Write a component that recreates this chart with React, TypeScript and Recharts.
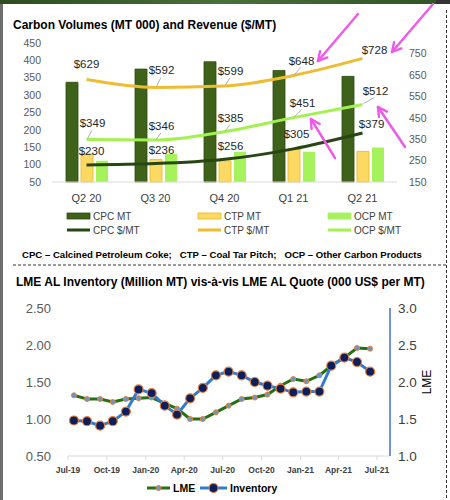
import React from 'react';
import { ComposedChart, LineChart, Bar, Line, XAxis, YAxis, LabelList } from 'recharts';

// ---------- Top chart data ----------
const quarters = ['Q2 20', 'Q3 20', 'Q4 20', 'Q1 21', 'Q2 21'];
const cpcVolume = [337, 375, 396, 371, 354];
const ctpVolume = [131, 115, 111, 146, 138];
const ocpVolume = [111, 131, 137, 137, 149];
const cpcRevenue = [230, 236, 256, 305, 379];
const ctpRevenue = [629, 592, 599, 648, 728];
const ocpRevenue = [349, 346, 385, 451, 512];
const volumeTicks = [50, 100, 150, 200, 250, 300, 350, 400, 450];
const revenueTicks = [150, 250, 350, 450, 550, 650, 750];

// ---------- Bottom chart data ----------
const months = [
  '2019-07', '2019-08', '2019-09', '2019-10', '2019-11', '2019-12',
  '2020-01', '2020-02', '2020-03', '2020-04', '2020-05', '2020-06',
  '2020-07', '2020-08', '2020-09', '2020-10', '2020-11', '2020-12',
  '2021-01', '2021-02', '2021-03', '2021-04', '2021-05', '2021-06',
];
const inventory = [0.98, 0.97, 0.91, 0.97, 1.10, 1.40, 1.35, 1.18, 1.06, 1.28, 1.42, 1.59, 1.64, 1.59, 1.50, 1.45, 1.41, 1.36, 1.37, 1.37, 1.72, 1.83, 1.77, 1.64];
const lmeQuote = [1.82, 1.77, 1.77, 1.73, 1.77, 1.78, 1.79, 1.71, 1.64, 1.50, 1.50, 1.59, 1.68, 1.77, 1.79, 1.83, 1.95, 2.04, 2.01, 2.09, 2.22, 2.33, 2.46, 2.45];
const quarterTickMonths = ['2019-07', '2019-10', '2020-01', '2020-04', '2020-07', '2020-10', '2021-01', '2021-04', '2021-07'];
const quarterTickLabels = ['Jul-19', 'Oct-19', 'Jan-20', 'Apr-20', 'Jul-20', 'Oct-20', 'Jan-21', 'Apr-21', 'Jul-21'];
const inventoryTicks = [0.5, 1.0, 1.5, 2.0, 2.5];
const lmeTicks = [1.0, 1.5, 2.0, 2.5, 3.0];

// ---------- helpers ----------
const monthStart = (m: string) => {
  const [y, mo] = m.split('-').map(Number);
  return Date.UTC(y, mo - 1, 1);
};
const monthMid = (m: string) => {
  const [y, mo] = m.split('-').map(Number);
  return Date.UTC(y, mo - 1, 15);
};

const topData = quarters.map((q, i) => ({
  q,
  cpcMT: cpcVolume[i],
  ctpMT: ctpVolume[i],
  ocpMT: ocpVolume[i],
  cpcP: cpcRevenue[i],
  ctpP: ctpRevenue[i],
  ocpP: ocpRevenue[i],
}));

const bottomData = months.map((m, i) => ({ t: monthMid(m), inv: inventory[i], lme: lmeQuote[i] }));
const tickTimes = quarterTickMonths.map(monthStart);
const xDomain = [monthStart('2019-07'), monthStart('2021-08')];

const FONT = '"Liberation Sans", Arial, sans-serif';

// colours
const C_CPC = '#3e6219';
const C_CPC_EDGE = '#2e4a10';
const C_CTP = '#fbd962';
const C_CTP_EDGE = '#ebb51f';
const C_OCP = '#a6f25d';
const L_CPC = '#264612';
const L_CTP = '#efbb30';
const L_OCP = '#a3f150';
const PINK = '#ef58ea';

// label offsets (style only): dx, dy, leader flag
const ctpLabelOffset = [[0, -16, 0], [6, -17, 1], [6, -15, 1], [8, -15, 1], [12, -8, 0]];
const ocpLabelOffset = [[6, -16, 1], [6, -14, 1], [6, -14, 1], [9, -15, 1], [13, -14, 1]];
const cpcLabelOffset = [[5, -14, 0], [6, -14, 0], [6, -13, 0], [3, -15, 0], [9, -9, 0]];

const makeLabel = (offsets: number[][]) => (props: any) => {
  const { index, value } = props;
  const x = props.x ?? props.viewBox?.x;
  const y = props.y ?? props.viewBox?.y;
  if (x == null || y == null) return null;
  const [dx, dy, leader] = offsets[index] || [0, -14, 0];
  return (
    <g key={`lbl-${index}`}>
      {leader ? (
        <line x1={x + 1} y1={y - 1} x2={x + dx * 0.9} y2={y + dy + 7} stroke="#9a9a9a" strokeWidth={0.8} />
      ) : null}
      <text
        x={x + dx}
        y={y + dy}
        textAnchor="middle"
        dominantBaseline="central"
        fontSize={11.5}
        fontFamily={FONT}
        fill="#262626"
      >
        {`$${value}`}
      </text>
    </g>
  );
};

const Arrow = ({ x1, y1, x2, y2 }: { x1: number; y1: number; x2: number; y2: number }) => {
  const ang = Math.atan2(y2 - y1, x2 - x1);
  const len = 10;
  const spread = 0.5;
  const a1 = ang + Math.PI - spread;
  const a2 = ang + Math.PI + spread;
  return (
    <g stroke={PINK} strokeWidth={2.4} strokeLinecap="round" fill="none">
      <line x1={x1} y1={y1} x2={x2} y2={y2} />
      <line x1={x2} y1={y2} x2={x2 + len * Math.cos(a1)} y2={y2 + len * Math.sin(a1)} />
      <line x1={x2} y1={y2} x2={x2 + len * Math.cos(a2)} y2={y2 + len * Math.sin(a2)} />
    </g>
  );
};

const legendItems = [
  { label: 'CPC MT', kind: 'bar', fill: C_CPC, stroke: C_CPC_EDGE, x: 67, y: 216 },
  { label: 'CTP MT', kind: 'bar', fill: C_CTP, stroke: C_CTP_EDGE, x: 198, y: 216 },
  { label: 'OCP MT', kind: 'bar', fill: C_OCP, stroke: C_OCP, x: 328, y: 216 },
  { label: 'CPC $/MT', kind: 'line', fill: L_CPC, stroke: L_CPC, x: 67, y: 230 },
  { label: 'CTP $/MT', kind: 'line', fill: L_CTP, stroke: L_CTP, x: 198, y: 230 },
  { label: 'OCP $/MT', kind: 'line', fill: L_OCP, stroke: L_OCP, x: 328, y: 230 },
];

export default function App() {
  return (
    <div style={{ position: 'absolute', left: 0, top: 0, width: 450, height: 500, background: '#fff', overflow: 'hidden', fontFamily: FONT }}>
      {/* Top chart */}
      <div style={{ position: 'absolute', left: 0, top: 0 }}>
        <ComposedChart width={450} height={212} data={topData} margin={{ top: 43, right: 0, bottom: 0, left: 0 }} barSize={12} barGap={3}>
          <XAxis
            dataKey="q"
            axisLine={{ stroke: '#d9d9d9' }}
            tickLine={false}
            tickMargin={6}
            height={30}
            interval={0}
            tick={{ fontSize: 11, fill: '#404040', fontFamily: FONT }}
          />
          <YAxis
            yAxisId="vol"
            domain={[50, 450]}
            ticks={volumeTicks}
            width={52}
            axisLine={false}
            tickLine={false}
            tickMargin={5}
            interval={0}
            tick={{ fontSize: 10.5, fill: '#595959', fontFamily: FONT }}
          />
          <YAxis
            yAxisId="rev"
            orientation="right"
            domain={[150, 800]}
            ticks={revenueTicks}
            width={53}
            axisLine={false}
            tickLine={false}
            tickMargin={6}
            interval={0}
            tick={{ fontSize: 10.5, fill: '#595959', fontFamily: FONT }}
          />
          <Bar yAxisId="vol" dataKey="cpcMT" fill={C_CPC} stroke={C_CPC_EDGE} strokeWidth={0.8} isAnimationActive={false} />
          <Bar yAxisId="vol" dataKey="ctpMT" fill={C_CTP} stroke={C_CTP_EDGE} strokeWidth={0.8} isAnimationActive={false} />
          <Bar yAxisId="vol" dataKey="ocpMT" fill={C_OCP} isAnimationActive={false} />
          <Line yAxisId="rev" type="monotone" dataKey="cpcP" stroke={L_CPC} strokeWidth={3} dot={false} isAnimationActive={false}>
            <LabelList dataKey="cpcP" content={makeLabel(cpcLabelOffset)} />
          </Line>
          <Line yAxisId="rev" type="monotone" dataKey="ctpP" stroke={L_CTP} strokeWidth={3} dot={false} isAnimationActive={false}>
            <LabelList dataKey="ctpP" content={makeLabel(ctpLabelOffset)} />
          </Line>
          <Line yAxisId="rev" type="monotone" dataKey="ocpP" stroke={L_OCP} strokeWidth={3} dot={false} isAnimationActive={false}>
            <LabelList dataKey="ocpP" content={makeLabel(ocpLabelOffset)} />
          </Line>
        </ComposedChart>
      </div>

      {/* Top title */}
      <div style={{ position: 'absolute', left: 13, top: 18, fontSize: 12, fontWeight: 700, color: '#000', whiteSpace: 'nowrap' }}>
        Carbon Volumes (MT 000) and Revenue ($/MT)
      </div>

      {/* Top legend */}
      <svg width={450} height={500} style={{ position: 'absolute', left: 0, top: 0, pointerEvents: 'none' }}>
        {legendItems.map((it) => (
          <g key={it.label}>
            {it.kind === 'bar' ? (
              <rect x={it.x} y={it.y - 3} width={23} height={6} fill={it.fill} stroke={it.stroke} strokeWidth={0.8} />
            ) : (
              <line x1={it.x} y1={it.y} x2={it.x + 23} y2={it.y} stroke={it.stroke} strokeWidth={3} />
            )}
            <text x={it.x + 26} y={it.y} dominantBaseline="central" fontSize={10} fill="#404040" fontFamily={FONT}>
              {it.label}
            </text>
          </g>
        ))}
        <text x={22} y={254} dominantBaseline="central" fontSize={9.6} fontWeight={700} fill="#000" fontFamily={FONT}>
          {'CPC \u2013 Calcined Petroleum Coke;\u00a0\u00a0\u00a0CTP \u2013 Coal Tar Pitch;\u00a0\u00a0\u00a0OCP \u2013 Other Carbon Products'}
        </text>
      </svg>

      {/* Bottom chart */}
      <div style={{ position: 'absolute', left: 0, top: 290 }}>
        <LineChart width={450} height={190} data={bottomData} margin={{ top: 18, right: 0, bottom: 0, left: 0 }}>
          <XAxis
            type="number"
            dataKey="t"
            domain={xDomain}
            ticks={tickTimes}
            interval={0}
            tickFormatter={(v: number) => {
              const i = tickTimes.indexOf(v);
              return i >= 0 ? quarterTickLabels[i] : '';
            }}
            axisLine={{ stroke: '#d9d9d9' }}
            tickLine={{ stroke: '#d9d9d9' }}
            tickSize={4}
            tickMargin={7}
            height={24}
            tick={{ fontSize: 8.5, fontWeight: 700, fill: '#404040', fontFamily: FONT }}
          />
          <YAxis
            yAxisId="inv"
            domain={[0.5, 2.5]}
            ticks={inventoryTicks}
            interval={0}
            width={68}
            axisLine={false}
            tickLine={false}
            tickMargin={11}
            tickFormatter={(v: number) => v.toFixed(2)}
            tick={{ fontSize: 13, fill: '#595959', fontFamily: FONT }}
          />
          <YAxis
            yAxisId="lme"
            orientation="right"
            domain={[1, 3]}
            ticks={lmeTicks}
            interval={0}
            width={60}
            axisLine={{ stroke: '#4472c4', strokeWidth: 1.5 }}
            tickLine={false}
            tickMargin={2}
            tickFormatter={(v: number) => v.toFixed(1)}
            tick={{ fontSize: 13.5, fill: '#404040', fontFamily: FONT }}
            label={{ value: 'LME', angle: -90, position: 'center', dx: 7, style: { fontSize: 12, fill: '#000', fontFamily: FONT } }}
          />
          <Line
            yAxisId="lme"
            type="linear"
            dataKey="lme"
            stroke="#247013"
            strokeWidth={3}
            dot={{ r: 2.5, fill: '#5b9bd5', stroke: '#ed7d31', strokeWidth: 1 }}
            isAnimationActive={false}
          />
          <Line
            yAxisId="inv"
            type="linear"
            dataKey="inv"
            stroke="#2f7bd3"
            strokeWidth={3}
            dot={{ r: 4.5, fill: '#0b1f5e', stroke: '#ed7d31', strokeWidth: 1.2 }}
            isAnimationActive={false}
          />
        </LineChart>
      </div>

      {/* Bottom title */}
      <div style={{ position: 'absolute', left: 16, top: 275, fontSize: 12, fontWeight: 700, color: '#000', whiteSpace: 'nowrap' }}>
        LME AL Inventory (Million MT) vis-à-vis LME AL Quote (000 US$ per MT)
      </div>

      {/* Decorations, separators, bottom legend and arrows */}
      <svg width={450} height={500} style={{ position: 'absolute', left: 0, top: 0, pointerEvents: 'none' }}>
        <defs>
          <linearGradient id="banner" x1="0" y1="0" x2="1" y2="0">
            <stop offset="0" stopColor="#2d4d20" />
            <stop offset="0.5" stopColor="#48703a" />
            <stop offset="1" stopColor="#2f5224" />
          </linearGradient>
        </defs>
        <rect x={0} y={0} width={450} height={4} fill="url(#banner)" />
        <rect x={436} y={0} width={14} height={4} fill="#333" />
        <rect x={0} y={4} width={3} height={496} fill="#6d6d6d" />
        <line x1={13} y1={265} x2={447} y2={265} stroke="#333" strokeWidth={1} strokeDasharray="3 2" />
        <line x1={446.5} y1={10} x2={446.5} y2={500} stroke="#333" strokeWidth={1} strokeDasharray="3 2" />

        {/* bottom legend */}
        <line x1={147} y1={488} x2={170} y2={488} stroke="#247013" strokeWidth={3} />
        <circle cx={158.5} cy={488} r={2.5} fill="#5b9bd5" stroke="#ed7d31" strokeWidth={1} />
        <text x={173} y={488} dominantBaseline="central" fontSize={10.5} fontWeight={700} fill="#000" fontFamily={FONT}>LME</text>
        <line x1={200} y1={488} x2={227} y2={488} stroke="#2f7bd3" strokeWidth={3} />
        <circle cx={213.5} cy={488} r={4.5} fill="#0b1f5e" stroke="#ed7d31" strokeWidth={1.2} />
        <text x={230} y={488} dominantBaseline="central" fontSize={10.5} fontWeight={700} fill="#000" fontFamily={FONT}>Inventory</text>

        {/* annotation arrows */}
        <Arrow x1={358} y1={14} x2={318} y2={61} />
        <Arrow x1={433} y1={4} x2={392} y2={52} />
        <Arrow x1={335} y1={158} x2={311} y2={119} />
        <Arrow x1={405} y1={147} x2={378} y2={107} />
      </svg>
    </div>
  );
}
